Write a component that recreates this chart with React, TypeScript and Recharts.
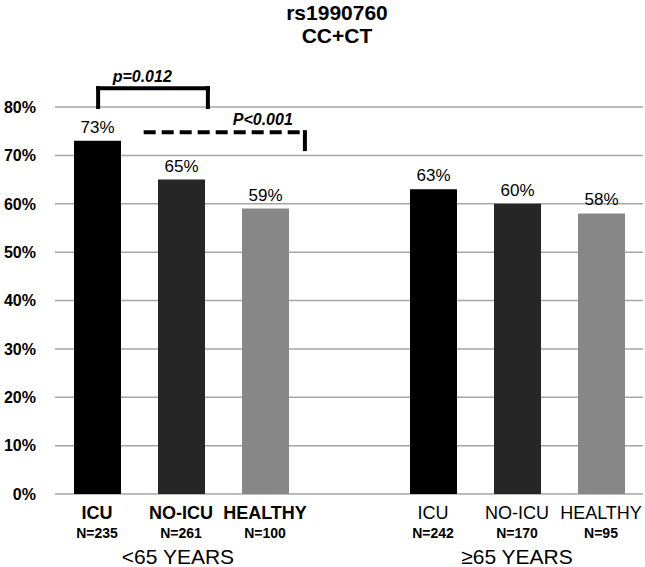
import { BarChart, Bar, XAxis, YAxis, CartesianGrid, Cell, LabelList, ReferenceLine, ReferenceDot } from "recharts";

const GROUPS = ["<65 YEARS", "≥65 YEARS"];
const SUBGROUPS = ["ICU", "NO-ICU", "HEALTHY"];
const PCT_UNDER_65 = [73, 65, 59];
const PCT_65_PLUS = [63, 60, 58];
const N_UNDER_65 = [235, 261, 100];
const N_65_PLUS = [242, 170, 95];
const Y_TICKS = [0, 10, 20, 30, 40, 50, 60, 70, 80];
const COLORS = ["#000000", "#262626", "#878787"];

// significance brackets, in slot units (x) and percent (y)
const SOLID_BRACKET = [
  [{ x: 0.44, y: 80 }, { x: 0.44, y: 83.9 }],
  [{ x: 0.44, y: 83.9 }, { x: 1.56, y: 83.9 }],
  [{ x: 1.56, y: 83.9 }, { x: 1.56, y: 80 }],
];
const DASHED_TOP = [{ x: 0.905, y: 74.8 }, { x: 2.55, y: 74.8 }];
const DASHED_LEG = [{ x: 2.55, y: 74.8 }, { x: 2.55, y: 71.3 }];
const P_LABELS = [
  { x: 0.89, y: 86.4, text: "p=0.012" },
  { x: 2.12, y: 77.5, text: "P<0.001" },
];

const FONT = "'Liberation Sans', Arial, sans-serif";

type Row = { id: string; name: string; value: number | null; n: number | null; sub: number; group: number };

const rows: Row[] = [
  ...SUBGROUPS.map((s, i) => ({ id: "a" + i, name: s, value: PCT_UNDER_65[i], n: N_UNDER_65[i], sub: i, group: 0 })),
  { id: "gap", name: "", value: null, n: null, sub: -1, group: -1 },
  ...SUBGROUPS.map((s, i) => ({ id: "b" + i, name: s, value: PCT_65_PLUS[i], n: N_65_PLUS[i], sub: i, group: 1 })),
];

function XTick(props: any) {
  const { x, y, index } = props;
  const r = rows[index];
  if (!r || r.group < 0) return null;
  return (
    <g>
      <text x={x} y={y + 25} textAnchor="middle" fontFamily={FONT} fontSize={18}
        fontWeight={r.group === 0 ? "bold" : "normal"} fill="#000">{r.name}</text>
      <text x={x} y={y + 44} textAnchor="middle" fontFamily={FONT} fontSize={14} fontWeight="bold" fill="#000">
        N={r.n}
      </text>
      {r.sub === 1 && (
        <text x={x - (r.group === 0 ? 3 : 0)} y={y + 70} textAnchor="middle" fontFamily={FONT} fontSize={21} fill="#000">
          {GROUPS[r.group]}
        </text>
      )}
    </g>
  );
}

function YTick(props: any) {
  const { y, payload } = props;
  return (
    <text x={36} y={y} dy="0.36em" textAnchor="end" fontFamily={FONT} fontSize={16} fontWeight="bold" fill="#000">
      {payload.value}%
    </text>
  );
}

export default function App() {
  return (
    <div style={{ position: "absolute", left: 0, top: 0, width: 645, height: 567, background: "#fff" }}>
      <div style={{ position: "absolute", left: 237, top: 1, width: 200, textAlign: "center", fontFamily: FONT,
        fontWeight: "bold", fontSize: 21, lineHeight: "23px", color: "#000" }}>
        rs1990760<br />CC+CT
      </div>
      <BarChart width={645} height={567} data={rows} margin={{ top: 107, right: 2, left: 0, bottom: 0 }} barSize={47}>
        <CartesianGrid horizontal vertical={false} stroke="#a6a6a6" strokeWidth={1.5} />
        <XAxis dataKey="id" height={73} axisLine={false} tickLine={false} tickSize={0} tickMargin={0} interval={0} tick={<XTick />} />
        <XAxis xAxisId="pos" type="number" domain={[0, 7]} allowDataOverflow hide />
        <YAxis width={55} domain={[0, 80]} ticks={Y_TICKS} interval={0} axisLine={false} tickLine={false} tick={<YTick />} />
        <Bar dataKey="value" isAnimationActive={false}>
          {rows.map((r, i) => (
            <Cell key={i} fill={COLORS[Math.max(r.sub, 0)]} />
          ))}
          <LabelList dataKey="value" position="top" offset={8} formatter={(v: any) => (v == null ? "" : `${v}%`)}
            style={{ fontFamily: FONT, fontSize: 17, fill: "#000" }} />
        </Bar>
        {SOLID_BRACKET.map((seg, i) => (
          <ReferenceLine key={"s" + i} xAxisId="pos" segment={seg} stroke="#000" strokeWidth={4}
            strokeLinecap="square" ifOverflow="visible" />
        ))}
        <ReferenceLine xAxisId="pos" segment={DASHED_TOP} stroke="#000" strokeWidth={4} strokeDasharray="12 6" ifOverflow="visible" />
        <ReferenceLine xAxisId="pos" segment={DASHED_LEG} stroke="#000" strokeWidth={4} strokeLinecap="square" ifOverflow="visible" />
        {P_LABELS.map((p) => (
          <ReferenceDot key={p.text} xAxisId="pos" x={p.x} y={p.y} r={0} ifOverflow="visible"
            shape={(s: any) => (
              <text x={s.cx} y={s.cy} dy="0.36em" textAnchor="middle" fontFamily={FONT} fontSize={16}
                fontWeight="bold" fontStyle="italic" fill="#000">{p.text}</text>
            )} />
        ))}
      </BarChart>
    </div>
  );
}
